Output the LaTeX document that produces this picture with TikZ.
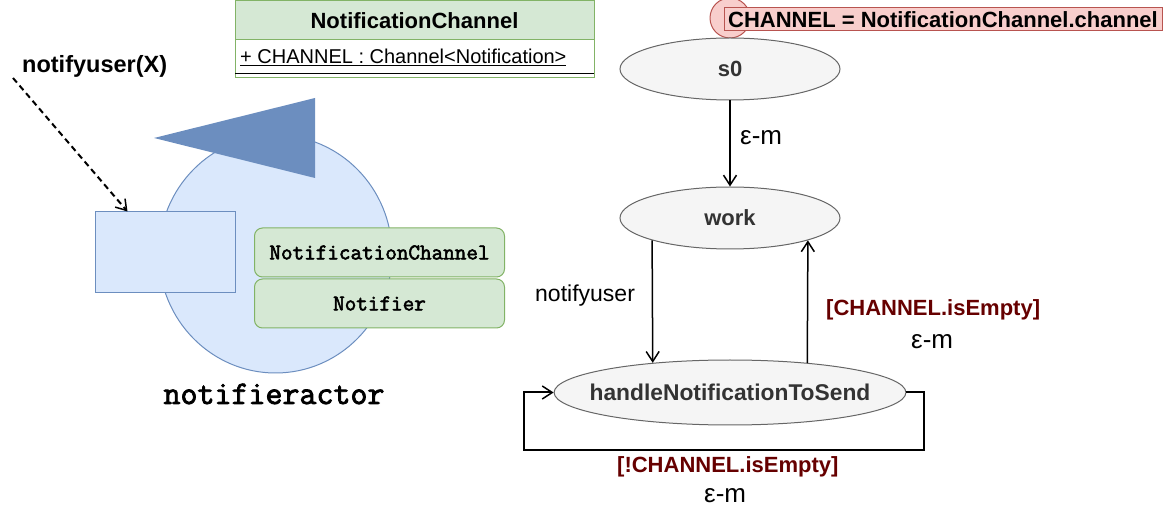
\documentclass[tikz,border=0pt]{standalone}
\usepackage{fontspec}
\setmainfont{Liberation Sans}
\newfontfamily\monob{Latin Modern Mono}[FakeBold=2.5]
\usetikzlibrary{arrows.meta,shapes.geometric,calc}
\definecolor{gfill}{HTML}{D5E8D4}
\definecolor{gline}{HTML}{82B366}
\definecolor{bfill}{HTML}{DAE8FC}
\definecolor{bline}{HTML}{6C8EBF}
\definecolor{sfill}{HTML}{F5F5F5}
\definecolor{sline}{HTML}{666666}
\definecolor{stext}{HTML}{333333}
\definecolor{rfill}{HTML}{F8CECC}
\definecolor{rline}{HTML}{B85450}
\definecolor{guard}{HTML}{660000}
\tikzset{
  state/.style={ellipse, draw=sline, fill=sfill, text=stext, line width=1pt, inner sep=0pt,
    font=\fontsize{22}{26}\selectfont\bfseries},
  part/.style={draw=gline, fill=gfill, rounded corners=8pt, line width=1pt,
    minimum width=250pt, minimum height=49pt, inner sep=0pt,
    font=\monob\fontsize{22.5}{26}\selectfont},
  arr/.style={draw, line width=1.5pt, -{Straight Barb[length=10pt,width=13pt,line width=1.5pt]}},
  lbl/.style={anchor=base west, inner sep=0pt, font=\fontsize{23}{27}\selectfont},
  elbl/.style={anchor=base west, inner sep=0pt, font=\fontsize{26}{30}\selectfont},
  glbl/.style={anchor=base west, inner sep=0pt, text=guard, font=\fontsize{22}{26}\selectfont\bfseries},
}
\begin{document}
\begin{tikzpicture}[x=1pt,y=-1pt]
\useasboundingbox (0,0) rectangle (1165,510);
% UML class
\draw[draw=gline, fill=gfill, line width=1pt] (235,0.5) rectangle (594,40);
\draw[draw=gline, fill=white, line width=1pt] (235,40) rectangle (594,78);
\draw[line width=1pt] (235,74) -- (594,74);
\node[anchor=base, inner sep=0pt, font=\fontsize{22}{26}\selectfont\bfseries] (ucls) at (414.5,29) {NotificationChannel};
\node[anchor=base west, inner sep=0pt, font=\fontsize{20}{24}\selectfont] (uatt) at (240,64) {\underline{+ CHANNEL : Channel<Notification>}};
% actor
\draw[draw=bline, fill=bfill, line width=1pt] (275.5,254) ellipse [x radius=116.5pt, y radius=119pt];
\fill[bline] (154,138) -- (315,98) -- (315,178) -- cycle;
\node[draw=bline, fill=bfill, line width=1pt, minimum width=140pt, minimum height=81pt, inner sep=0pt] (port) at (165,252.5) {};
\node[part] (pch) at (379.5,252.5) {NotificationChannel};
\node[part] (pnt) at (379.5,303.5) {Notifier};
\node[anchor=base, inner sep=0pt, font=\monob\fontsize{33}{38}\selectfont] (actname) at (274,404) {notifieractor};
\node[anchor=base west, inner sep=0pt, font=\fontsize{23.5}{27}\selectfont\bfseries] (msg) at (22,73) {notifyuser(X)};
\coordinate (ds) at (13,78);
\draw[arr, line width=2pt, dash pattern=on 6pt off 4pt] (ds) -- ($(port.north west)+(33,0)$);
% state machine
\draw[draw=rline, fill=rfill, line width=1pt] (730,18) circle [radius=20pt];
\node[draw=rline, fill=rfill, line width=1pt, minimum width=438pt, minimum height=23pt, inner sep=0pt,
  font=\fontsize{22}{26}\selectfont\bfseries] (init) at (943,19.5) {CHANNEL = NotificationChannel.channel};
\node[state, minimum width=220pt, minimum height=62pt] (s0) at (730,69) {s0};
\node[state, minimum width=220pt, minimum height=62pt] (work) at (730,218) {work};
\node[state, minimum width=350pt, minimum height=65pt, inner xsep=-16pt, font=\fontsize{22.8}{26}\selectfont\bfseries] (h) at (730,392.5) {handleNotificationToSend};
\draw[arr] (s0) -- (work);
\draw[arr] (work.196) -- (h.159);
\draw[arr] (h.21) -- (work.344);
\draw[arr, line width=2pt] (h.east) -- (924,392.5) -- (924,450) -- (524,450) -- (524,392.5) -- (h.west);
\node[elbl] (l1) at (740,145) {ε-m};
\node[lbl] (l2) at (535,302) {notifyuser};
\node[glbl] (l3) at (826,316) {[CHANNEL.isEmpty]};
\node[elbl] (l4) at (911,349) {ε-m};
\node[glbl] (l5) at (617,472) {[!CHANNEL.isEmpty]};
\node[elbl] (l6) at (704,502) {ε-m};
\end{tikzpicture}
\end{document}
